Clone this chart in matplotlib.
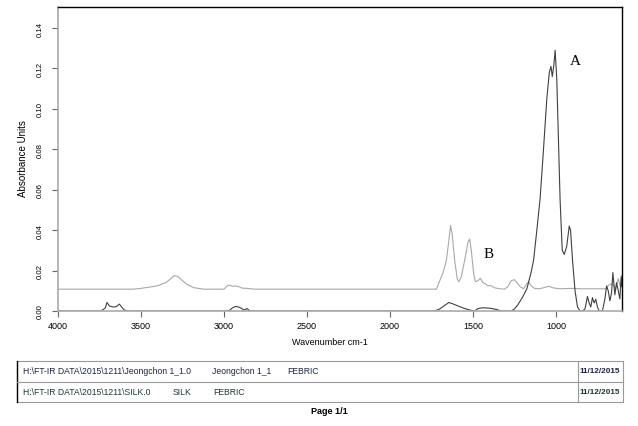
import matplotlib.pyplot as plt
from matplotlib.patches import Rectangle
from matplotlib.lines import Line2D

plt.rcParams['font.family'] = ['Liberation Sans', 'DejaVu Sans']

# Spectrum A (Jeongchon 1_1)
wn_a = [4000, 3740, 3715, 3705, 3690, 3670, 3650, 3630, 3615, 3600, 3580,
        3000, 2970, 2950, 2930, 2905, 2880, 2860, 2845,
        1730, 1700, 1670, 1645, 1620, 1590, 1560, 1520, 1490, 1470, 1440,
        1400, 1360, 1330, 1270, 1250, 1230, 1200, 1175, 1150, 1135, 1115,
        1095, 1075, 1055, 1040, 1030, 1022, 1012, 1005, 995, 985, 975, 962,
        950, 935, 920, 912, 900, 885, 870, 855, 840, 825, 810, 800, 790,
        780, 770, 760, 750, 740, 720, 705, 695, 685, 675, 665, 657, 645,
        635, 627, 615, 607, 603]
abs_a = [0.0, 0.0, 0.0015, 0.0042, 0.0025, 0.0020, 0.0021, 0.0034, 0.0018, 0.0005, 0.0,
         0.0, 0.0, 0.0015, 0.0023, 0.0018, 0.0005, 0.0012, 0.0,
         0.0, 0.001, 0.0028, 0.0042, 0.0035, 0.0025, 0.0015, 0.0005, 0.0, 0.0012, 0.0016,
         0.0014, 0.0008, 0.0, 0.0, 0.001, 0.003, 0.007, 0.011, 0.019, 0.025, 0.040,
         0.056, 0.080, 0.105, 0.118, 0.121, 0.116, 0.122, 0.129, 0.115, 0.085, 0.055, 0.030,
         0.028, 0.032, 0.042, 0.040, 0.025, 0.010, 0.002, 0.0, 0.0, 0.001, 0.0072, 0.004, 0.002,
         0.0066, 0.004, 0.0058, 0.002, 0.0, 0.0, 0.006, 0.0124, 0.010, 0.005, 0.009, 0.019, 0.008,
         0.014, 0.011, 0.006, 0.017, 0.012]

# Spectrum B (SILK)
wn_b = [4000, 3550, 3500, 3450, 3400, 3350, 3320, 3300, 3280, 3250, 3220,
        3180, 3120, 3000, 2980, 2965, 2950, 2930, 2910, 2890, 2860, 2820,
        1720, 1700, 1680, 1660, 1645, 1635, 1625, 1610, 1595, 1585, 1570,
        1550, 1530, 1520, 1510, 1495, 1485, 1470, 1455, 1440, 1425, 1410,
        1390, 1370, 1340, 1310, 1290, 1270, 1250, 1235, 1215, 1195, 1180,
        1165, 1150, 1130, 1100, 1060, 1040, 1020, 980, 900, 850, 780, 700,
        680, 660, 640, 625, 612, 603]
abs_b = [0.0108, 0.0108, 0.0112, 0.0118, 0.0125, 0.0140, 0.0160, 0.0175, 0.0172, 0.0150, 0.0130,
         0.0115, 0.0108, 0.0108, 0.0125, 0.0128, 0.0122, 0.0124, 0.0120, 0.0113, 0.0112, 0.0108,
         0.0108, 0.0150, 0.0190, 0.0250, 0.0350, 0.0423, 0.0380, 0.0250, 0.0160, 0.0145, 0.0170,
         0.0250, 0.0340, 0.0356, 0.0300, 0.0180, 0.0145, 0.0150, 0.0162, 0.0140, 0.0135, 0.0125,
         0.0125, 0.0115, 0.0110, 0.0108, 0.0120, 0.0150, 0.0155, 0.0140, 0.0120, 0.0110, 0.0130,
         0.0145, 0.0125, 0.0112, 0.0110, 0.0118, 0.0122, 0.0115, 0.0110, 0.0112, 0.0110, 0.0110, 0.0110,
         0.0130, 0.0135, 0.0110, 0.0160, 0.0120, 0.0175]

xticks = [4000, 3500, 3000, 2500, 2000, 1500, 1000]
yticks = [0.00, 0.02, 0.04, 0.06, 0.08, 0.10, 0.12, 0.14]

row1 = ["H:\\FT-IR DATA\\2015\\1211\\Jeongchon 1_1.0", "Jeongchon 1_1", "FEBRIC", "11/12/2015"]
row2 = ["H:\\FT-IR DATA\\2015\\1211\\SILK.0", "SILK", "FEBRIC", "11/12/2015"]

W, H = 638, 427
fig = plt.figure(figsize=(W / 100, H / 100), dpi=100)
ax = fig.add_axes([58 / W, 1 - 312 / H, (622 - 58) / W, (312 - 8) / H])

ax.plot(wn_b, abs_b, color='#a8a8a8', lw=0.8)
ax.plot(wn_a, abs_a, color='#404040', lw=0.8)

ax.set_xlim(4000, 602)
ax.set_ylim(0, 0.1504)
ax.set_xticks(xticks)
ax.set_yticks(yticks)
ax.set_xticklabels([str(t) for t in xticks], fontsize=6.5)
ax.set_yticklabels(['%.2f' % t for t in yticks], fontsize=5.6, rotation=90, va='center')
ax.tick_params(axis='both', length=4, width=0.8, color='#666666', direction='out')
ax.tick_params(axis='x', pad=3)
ax.tick_params(axis='y', pad=6)

for s in ['left', 'bottom']:
    ax.spines[s].set_color('#aaaaaa')
    ax.spines[s].set_linewidth(1.2)
for s in ['top', 'right']:
    ax.spines[s].set_color('black')
    ax.spines[s].set_linewidth(1.0)

# info table under the plot
def fx(x):
    return x / W

def fy(y):
    return 1 - y / H

fig.text(fx(23.5), fy(159), "Absorbance Units", fontsize=7, rotation=90, ha='center', va='center')
fig.text(fx(330), fy(343), "Wavenumber cm-1", fontsize=6.5, ha='center', va='center')

ax.text(916, 0.1237, "A", fontsize=11, family='Liberation Serif', va='center')
ax.text(1434, 0.0282, "B", fontsize=11, family='Liberation Serif', va='center')

fig.patches.append(Rectangle((fx(17), fy(403)), fx(623) - fx(17), fy(362) - fy(403),
                             transform=fig.transFigure, fill=False, ec='#999999', lw=0.8))
fig.lines.append(Line2D([fx(17), fx(17)], [fy(403), fy(362)], transform=fig.transFigure, color='black', lw=1.0))
fig.lines.append(Line2D([fx(17), fx(623)], [fy(383), fy(383)], transform=fig.transFigure, color='#999999', lw=0.8))
fig.lines.append(Line2D([fx(578), fx(578)], [fy(403), fy(362)], transform=fig.transFigure, color='#999999', lw=0.8))

for row, y, col, xs in [(row1, 372, '#1c2340', [23, 212, 287]),
                        (row2, 393, '#1c3838', [23, 173, 213])]:
    for txt, x in zip(row[:3], xs):
        fig.text(fx(x), fy(y), txt, fontsize=6.2, color=col, va='center')
    fig.text(fx(580), fy(y), row[3], fontsize=5.9, color=col, va='center', weight='bold')

fig.text(fx(329), fy(412), "Page 1/1", fontsize=6.5, weight='bold', ha='center', va='center')

fig.savefig("out.png", dpi=100)
